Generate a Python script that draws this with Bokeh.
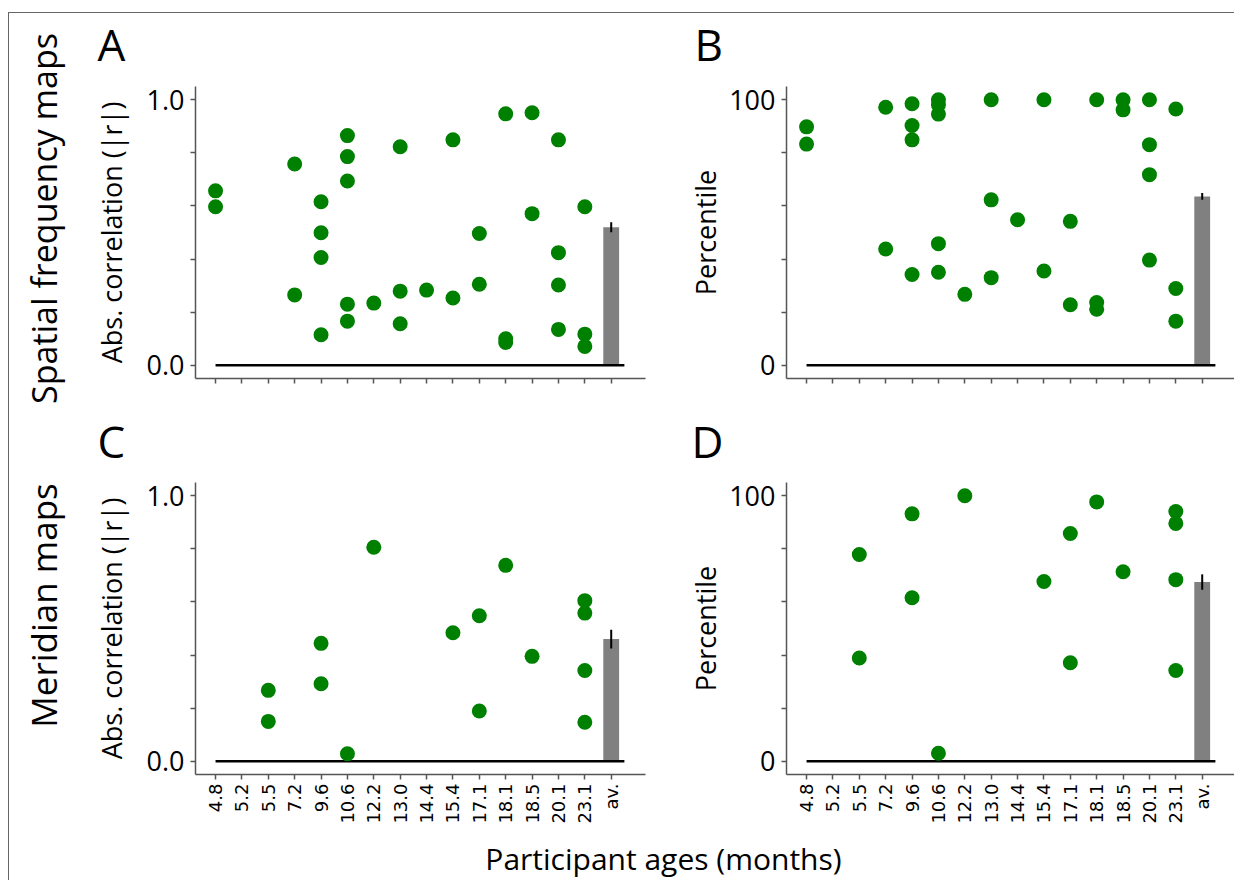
import math
from bokeh.plotting import figure
from bokeh.layouts import column, row
from bokeh.models import Range1d, FixedTicker, Label, NumeralTickFormatter
from bokeh.embed import file_html
from bokeh.resources import INLINE

# ---------------- data ----------------
ages = ["4.8", "5.2", "5.5", "7.2", "9.6", "10.6", "12.2", "13.0",
        "14.4", "15.4", "17.1", "18.1", "18.5", "20.1", "23.1"]
categories = ages + ["av."]

# Spatial frequency maps (A: |r|, B: percentile)
sf_ages = ["4.8", "4.8", "7.2", "7.2", "9.6", "9.6", "9.6", "9.6",
           "10.6", "10.6", "10.6", "10.6", "10.6", "12.2", "13.0", "13.0", "13.0",
           "14.4", "15.4", "15.4", "17.1", "17.1", "18.1", "18.1", "18.1",
           "18.5", "18.5", "20.1", "20.1", "20.1", "20.1", "23.1", "23.1", "23.1"]
sf_corr = [0.657, 0.597, 0.758, 0.265, 0.616, 0.499, 0.406, 0.115,
           0.865, 0.786, 0.694, 0.230, 0.166, 0.234, 0.823, 0.279, 0.156,
           0.283, 0.849, 0.253, 0.496, 0.305, 0.947, 0.100, 0.086,
           0.951, 0.571, 0.849, 0.424, 0.302, 0.135, 0.597, 0.117, 0.071]
sf_pct = [89.8, 83.3, 97.2, 43.8, 98.5, 90.3, 84.9, 34.2,
          100.0, 98.1, 94.6, 45.8, 35.0, 26.7, 100.0, 62.3, 33.0,
          54.8, 100.0, 35.5, 54.2, 22.8, 100.0, 23.6, 21.1,
          100.0, 96.2, 100.0, 83.1, 71.8, 39.6, 96.5, 28.9, 16.6]
sf_corr_mean, sf_corr_err = 0.520, 0.019
sf_pct_mean, sf_pct_err = 63.6, 1.3

# Meridian maps (C: |r|, D: percentile)
mer_ages = ["5.5", "5.5", "9.6", "9.6", "10.6", "12.2", "15.4", "17.1", "17.1",
            "18.1", "18.5", "23.1", "23.1", "23.1", "23.1"]
mer_corr = [0.267, 0.150, 0.444, 0.292, 0.028, 0.806, 0.484, 0.548, 0.189,
            0.738, 0.395, 0.605, 0.558, 0.342, 0.147]
mer_pct = [77.9, 38.9, 93.2, 61.6, 3.0, 100.0, 67.7, 85.8, 37.1,
           97.7, 71.4, 94.1, 89.6, 68.4, 34.2]
mer_corr_mean, mer_corr_err = 0.460, 0.035
mer_pct_mean, mer_pct_err = 67.5, 2.9

row_labels = ["Spatial frequency maps", "Meridian maps"]
panel_letters = ["A", "B", "C", "D"]
corr_label = "Abs. correlation (|r|)"
pct_label = "Percentile"
x_label = "Participant ages (months)"

# ---------------- styling / layout ----------------
GREEN = "#008000"
GRAY = "#808080"
SPINE = "#555555"
FONT = "Open Sans"
X_START = -0.76
PPU = 450 / 17.06  # pixels per category step

LEFT_W = 75          # strip with the row labels
A_W, A_BL, A_BR = 566, 111, 5
B_W, B_BL, B_BR = 584, 136, 0
H1, R1_H, R1_BT, R1_BB = 69, 323, 4, 27
H2, R2_H, R2_BT, R2_BB = 71, 356, 6, 58
XL_H = 48


def blank(width, height):
    f = figure(width=width, height=height, output_backend="svg",
               toolbar_location=None, x_range=Range1d(0, width),
               y_range=Range1d(0, height), x_axis_type=None, y_axis_type=None,
               min_border=0)
    f.outline_line_color = None
    f.grid.visible = False
    return f


def text_at(f, x, y_from_top, text, size, angle=0.0, align="left"):
    f.add_layout(Label(x=x, y=f.height - y_from_top, text=text, text_font=FONT,
                       text_font_size=size, angle=angle, text_align=align,
                       text_baseline="middle", text_color="black"))


def make_panel(width, bl, br, height, bt, bb, pt_ages, vals, mean, err, ymax,
               ylabel, show_xlabels=False, lab_standoff=18, fmt=None):
    fw = width - bl - br
    xr = (X_START, X_START + fw / PPU)
    yr = (-0.05 * ymax, 1.05 * ymax)
    p = figure(width=width, height=height, output_backend="svg",
               toolbar_location=None, x_range=Range1d(*xr), y_range=Range1d(*yr),
               min_border_left=bl, min_border_right=br,
               min_border_top=bt, min_border_bottom=bb)
    p.outline_line_color = None
    p.grid.visible = False

    n = len(categories)
    avg_x = n - 1
    p.vbar(x=[avg_x], top=[mean], bottom=0, width=0.6, fill_color=GRAY,
           line_color=None)
    p.segment(x0=[0], y0=[0], x1=[n - 0.5], y1=[0], line_color="black",
              line_width=2.5)
    p.segment(x0=[avg_x], y0=[mean - err], x1=[avg_x], y1=[mean + err],
              line_color="black", line_width=2)
    xs = [categories.index(a) for a in pt_ages]
    p.scatter(x=xs, y=vals, size=15, fill_color=GREEN, line_color=None)

    for ax in (p.xaxis, p.yaxis):
        ax.axis_line_color = SPINE
        ax.axis_line_width = 1.5
        ax.major_tick_line_color = SPINE
        ax.minor_tick_line_color = SPINE
        ax.major_tick_line_width = 1.5
        ax.minor_tick_line_width = 1.5
        ax.major_tick_in = 0
        ax.major_tick_out = 5
        ax.minor_tick_in = 0
        ax.minor_tick_out = 5
    if show_xlabels:
        p.xaxis.ticker = FixedTicker(ticks=list(range(n)))
        p.xaxis.major_label_overrides = {i: lab for i, lab in enumerate(categories)}
        p.xaxis.major_label_orientation = math.pi / 2
        p.xaxis.major_label_text_font = "DejaVu Sans"
        p.xaxis.major_label_text_font_size = "18px"
        p.xaxis.major_label_text_color = "black"
        p.xaxis.major_label_standoff = 4
    else:
        p.xaxis.ticker = FixedTicker(ticks=[], minor_ticks=list(range(n)))

    p.yaxis.ticker = FixedTicker(ticks=[0, ymax],
                                 minor_ticks=[ymax * k / 5 for k in range(1, 5)])
    if fmt:
        p.yaxis.formatter = NumeralTickFormatter(format=fmt)
    p.yaxis.major_label_text_font = FONT
    p.yaxis.major_label_text_font_size = "27px"
    p.yaxis.major_label_text_color = "black"
    p.yaxis.major_label_standoff = 6
    p.yaxis.axis_label = ylabel
    p.yaxis.axis_label_text_font = FONT
    p.yaxis.axis_label_text_font_size = "27px"
    p.yaxis.axis_label_text_font_style = "normal"
    p.yaxis.axis_label_text_color = "black"
    p.yaxis.axis_label_standoff = lab_standoff
    return p


pA = make_panel(A_W, A_BL, A_BR, R1_H, R1_BT, R1_BB, sf_ages, sf_corr,
                sf_corr_mean, sf_corr_err, 1.0, corr_label, lab_standoff=14,
                fmt="0.0")
pB = make_panel(B_W, B_BL, B_BR, R1_H, R1_BT, R1_BB, sf_ages, sf_pct,
                sf_pct_mean, sf_pct_err, 100, pct_label, lab_standoff=2)
pC = make_panel(A_W, A_BL, A_BR, R2_H, R2_BT, R2_BB, mer_ages, mer_corr,
                mer_corr_mean, mer_corr_err, 1.0, corr_label, show_xlabels=True,
                lab_standoff=14, fmt="0.0")
pD = make_panel(B_W, B_BL, B_BR, R2_H, R2_BT, R2_BB, mer_ages, mer_pct,
                mer_pct_mean, mer_pct_err, 100, pct_label, show_xlabels=True,
                lab_standoff=2)

# panel letter strips (page y of the strips: 13 and 405)
hdr1 = blank(A_W + B_W, H1)
text_at(hdr1, 13, 30, panel_letters[0], "44px")
text_at(hdr1, 610, 30, panel_letters[1], "44px")
hdr2 = blank(A_W + B_W, H2)
text_at(hdr2, 13, 35, panel_letters[2], "44px")
text_at(hdr2, 607, 35, panel_letters[3], "44px")

# row label strip
left_h = H1 + R1_H + H2 + R2_H
left = blank(LEFT_W, left_h)
text_at(left, 34, 205, row_labels[0], "34px", angle=math.pi / 2, align="center")
text_at(left, 34, 592, row_labels[1], "35px", angle=math.pi / 2, align="center")

# shared x label strip
xl = blank(LEFT_W + A_W + B_W, XL_H)
text_at(xl, 663 - 9, 858 - 832, x_label, "30px", align="center")

right_block = column(hdr1, row(pA, pB), hdr2, row(pC, pD))
layout = column(row(left, right_block), xl,
                styles={"border-left": "1px solid #666666",
                        "border-top": "1px solid #666666",
                        "margin-top": "12px", "margin-left": "8px"})

open("out.html", "w").write(file_html(layout, INLINE))
